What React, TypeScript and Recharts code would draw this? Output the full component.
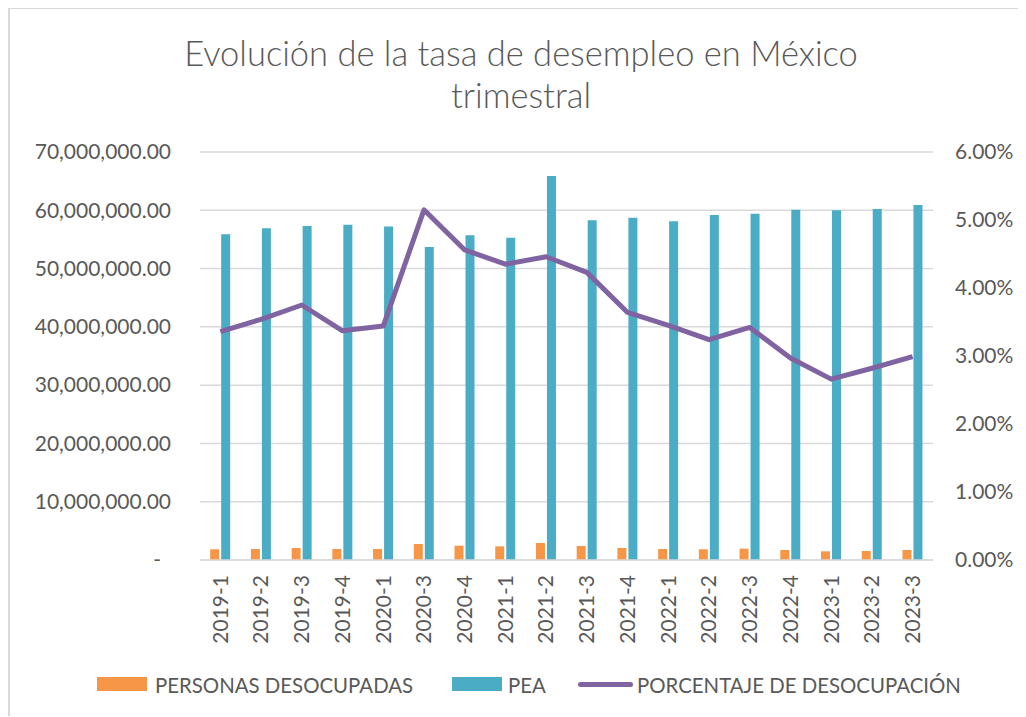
import React from "react";
import { ComposedChart, Bar, Line, XAxis, YAxis, CartesianGrid } from "recharts";

const categories = ["2019-1","2019-2","2019-3","2019-4","2020-1","2020-3","2020-4","2021-1","2021-2","2021-3","2021-4","2022-1","2022-2","2022-3","2022-4","2023-1","2023-2","2023-3"];
const desocupadas = [1840000,1890000,2060000,1890000,1890000,2740000,2450000,2340000,2920000,2400000,2060000,1890000,1840000,1950000,1720000,1490000,1550000,1720000];
const pea = [55900000,56900000,57300000,57500000,57200000,53700000,55700000,55300000,65900000,58300000,58700000,58100000,59200000,59400000,60100000,60000000,60200000,60900000];
const porcentaje = [0.0336,0.0354,0.0375,0.0337,0.0344,0.0515,0.0456,0.0435,0.0446,0.0423,0.0364,0.0345,0.0324,0.0342,0.0297,0.0266,0.0282,0.0299];
const leftTicks = [0,10000000,20000000,30000000,40000000,50000000,60000000,70000000];
const rightTicks = [0,0.01,0.02,0.03,0.04,0.05,0.06];

const data = categories.map((c, i) => ({ cat: c, desoc: desocupadas[i], pea: pea[i], pct: porcentaje[i] }));

const FONT = "Lato, 'Open Sans', sans-serif";
const TXT = "#595959";
const ORANGE = "#F79646";
const BLUE = "#4BACC6";
const PURPLE = "#8064A2";
const GRID = "#D9D9D9";

const fmtLeft = (v: number) => v === 0 ? "-" : v.toLocaleString("en-US", { minimumFractionDigits: 2, maximumFractionDigits: 2 });

const LeftTick = (props: any) => {
  const { y, payload } = props;
  const v = payload.value;
  return (
    <text x={v === 0 ? 153 : 163} y={y} dy="0.35em" textAnchor="end" fill={TXT} fontSize={21} fontFamily={FONT}>
      {fmtLeft(v)}
    </text>
  );
};

const RightTick = (props: any) => {
  const { y, payload } = props;
  return (
    <text x={947} y={y} dy="0.35em" textAnchor="start" fill={TXT} fontSize={21} fontFamily={FONT}>
      {(payload.value * 100).toFixed(2) + "%"}
    </text>
  );
};

const XTick = (props: any) => {
  const { x, payload } = props;
  const y = 567;
  return (
    <text x={x} y={y} dy="0.35em" textAnchor="end" transform={`rotate(-90, ${x}, ${y})`} fill={TXT} fontSize={21} fontFamily={FONT}>
      {payload.value}
    </text>
  );
};

export default function App() {
  return (
    <div style={{ position: "relative", width: 1018, height: 708, fontFamily: FONT }}>
      <div style={{ position: "absolute", left: 0, top: -1, width: 1018, height: 709, borderLeft: `2px solid ${GRID}`, borderTop: `2px solid ${GRID}`, boxSizing: "border-box" }} />
      <div style={{ position: "absolute", left: 0, top: 24, width: 1026, textAlign: "center", color: TXT, fontSize: 34.5, fontWeight: 300, lineHeight: "42px" }}>
        Evolución de la tasa de desempleo en México<br />trimestral
      </div>
      <div style={{ position: "absolute", left: 0, top: 0 }}>
        <ComposedChart width={1018} height={708} data={data} margin={{ top: 144, right: 0, left: 0, bottom: 0 }} barCategoryGap="25%" barGap={2}>
          <CartesianGrid yAxisId="left" vertical={false} stroke={GRID} strokeWidth={1.5} />
          <XAxis dataKey="cat" height={156} interval={0} tick={<XTick />} tickLine={false} axisLine={{ stroke: GRID, strokeWidth: 1.5 }} />
          <YAxis yAxisId="left" orientation="left" width={192} domain={[0, 70000000]} ticks={leftTicks} tick={<LeftTick />} tickLine={false} axisLine={false} />
          <YAxis yAxisId="right" orientation="right" width={93} domain={[0, 0.06]} ticks={rightTicks} tick={<RightTick />} tickLine={false} axisLine={false} />
          <Bar yAxisId="left" dataKey="desoc" fill={ORANGE} isAnimationActive={false} />
          <Bar yAxisId="left" dataKey="pea" fill={BLUE} isAnimationActive={false} />
          <Line yAxisId="right" dataKey="pct" stroke={PURPLE} strokeWidth={5} dot={false} strokeLinejoin="round" isAnimationActive={false} />
        </ComposedChart>
      </div>
      <div style={{ position: "absolute", left: 0, top: 664, width: 1018, height: 26, color: TXT, fontSize: 20.4 }}>
        <div style={{ position: "absolute", left: 89, top: 5, width: 50, height: 14, background: ORANGE }} />
        <div style={{ position: "absolute", left: 147, top: 0, lineHeight: "26px", whiteSpace: "nowrap" }}>PERSONAS DESOCUPADAS</div>
        <div style={{ position: "absolute", left: 444, top: 5, width: 50, height: 14, background: BLUE }} />
        <div style={{ position: "absolute", left: 500, top: 0, lineHeight: "26px", whiteSpace: "nowrap" }}>PEA</div>
        <div style={{ position: "absolute", left: 570, top: 10, width: 55, height: 5, borderRadius: 3, background: PURPLE }} />
        <div style={{ position: "absolute", left: 629, top: 0, lineHeight: "26px", whiteSpace: "nowrap" }}>PORCENTAJE DE DESOCUPACIÓN</div>
      </div>
    </div>
  );
}
